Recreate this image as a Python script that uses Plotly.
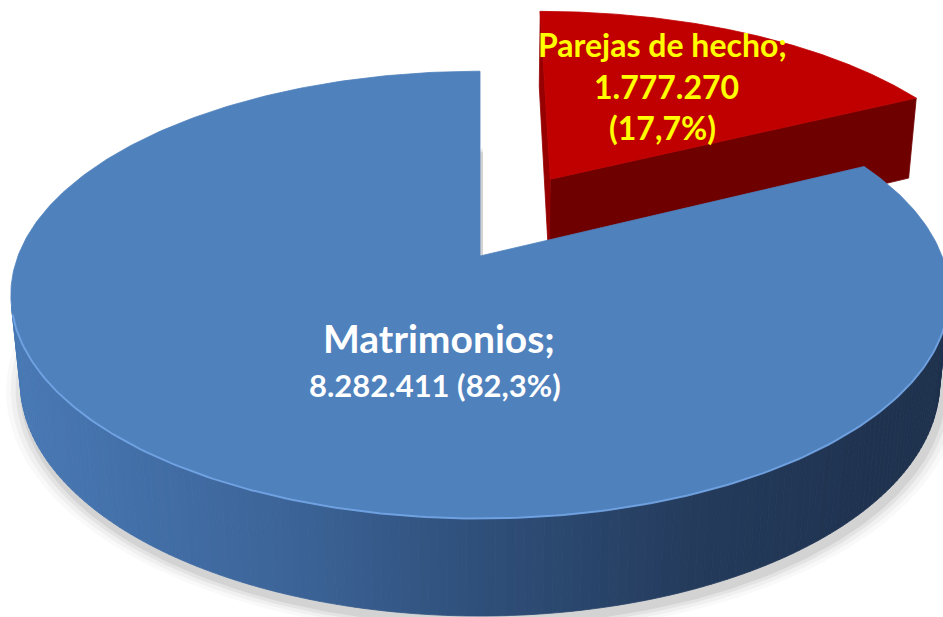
import numpy as np
import plotly.graph_objects as go

# ---------------- data ----------------
categories = ["Matrimonios", "Parejas de hecho"]
values = [8282411, 1777270]
pull = [0.0, 0.30]
top_colors = [(79, 129, 189), (192, 0, 0)]
label_colors = ["#FFFFFF", "#FFFF00"]

# ---------------- 3D pie geometry (style constants) ----------------
W, HGT = 943, 617
PHI = np.radians(28.0)      # elevation of the view
DIST = 5.08                 # camera distance (in radii)
THICK = 0.215               # disk thickness (in radii)
LIFT = [0.0, 0.06]          # exploded slice drawn slightly raised
SCALE = 462 * DIST
CX, CY = 480, 256
START = 90.0                # first slice starts at 12 o'clock, counter-clockwise

cphi, sphi = np.cos(PHI), np.sin(PHI)
CAM = np.array([0.0, -DIST * cphi, THICK + DIST * sphi])


def project(X, Y, Z):
    X, Y, Z = np.asarray(X, float), np.asarray(Y, float), np.asarray(Z, float)
    vx, vy, vz = X - CAM[0], Y - CAM[1], Z - CAM[2]
    xc = vx
    yc = vy * sphi + vz * cphi
    zc = vy * cphi - vz * sphi
    return CX + SCALE * xc / zc, CY - SCALE * yc / zc


def rgb(c):
    return "rgb(%d,%d,%d)" % tuple(int(round(v)) for v in c)


def side_blue(xpix):
    stops = [(0.0, (72, 120, 180)), (0.3, (60, 100, 152)), (0.5, (47, 80, 123)),
             (0.75, (36, 59, 92)), (1.0, (30, 49, 77))]
    t = np.clip((xpix - 20) / 900.0, 0, 1)
    for (a, ca), (b, cb) in zip(stops[:-1], stops[1:]):
        if t <= b:
            f = (t - a) / (b - a)
            return tuple(ca[i] + (cb[i] - ca[i]) * f for i in range(3))
    return stops[-1][1]


def side_red(xpix):
    t = np.clip((xpix - 540) / 380.0, 0, 1)
    a, b = (125, 0, 0), (98, 0, 0)
    return tuple(a[i] + (b[i] - a[i]) * t for i in range(3))


fig = go.Figure()


def poly(xs, ys, color, width=0.8, line=None):
    fig.add_trace(go.Scatter(x=list(xs) + [xs[0]], y=list(ys) + [ys[0]], mode="lines",
                             fill="toself", fillcolor=color,
                             line=dict(color=line or color, width=width),
                             hoverinfo="skip", showlegend=False))


total = float(sum(values))
fracs = [v / total for v in values]
slices = []
cum = 0.0
for i, f in enumerate(fracs):
    t0 = START + cum * 360.0
    t1 = t0 + f * 360.0
    cum += f
    mid = np.radians((t0 + t1) / 2)
    ox, oy = pull[i] * np.cos(mid), pull[i] * np.sin(mid)
    slices.append(dict(i=i, t0=t0, t1=t1, ox=ox, oy=oy, mid=mid, lz=LIFT[i]))

# soft shadow below the main disk
for k, (grow, alpha) in enumerate([(1.035, 0.025), (1.025, 0.035), (1.015, 0.05), (1.006, 0.07)]):
    s0 = [s for s in slices if s["i"] == 0][0]
    tt = np.radians(np.linspace(s0["t0"], s0["t1"], 300))
    X = np.concatenate([[0], grow * np.cos(tt)])
    Y = np.concatenate([[0], grow * np.sin(tt) - 0.01])
    px, py = project(X, Y, np.full(len(X), -0.005))
    px = px + 3
    py = py + 2
    poly(list(px), list(py), "rgba(0,0,0,%.3f)" % alpha, width=0)

# far slices first
slices.sort(key=lambda s: -np.sin(s["mid"]))

for s in slices:
    i, t0, t1, ox, oy, lz = s["i"], s["t0"], s["t1"], s["ox"], s["oy"], s["lz"]
    shade = side_blue if i == 0 else side_red
    # radial cut faces
    for ang, sgn in ((t0, 1), (t1, -1)):
        a = np.radians(ang)
        n = np.array([sgn * np.sin(a), -sgn * np.cos(a), 0.0])
        P = np.array([ox + 0.5 * np.cos(a), oy + 0.5 * np.sin(a), THICK / 2 + lz])
        if np.dot(CAM - P, n) > 1e-6:
            X = [ox, ox + np.cos(a), ox + np.cos(a), ox]
            Y = [oy, oy + np.sin(a), oy + np.sin(a), oy]
            Z = [THICK + lz, THICK + lz, lz, lz]
            px, py = project(X, Y, Z)
            col = (150, 0, 0) if (i == 1 and sgn == -1) else shade(np.mean(px))
            poly(px, py, rgb(col))
    # outer curved side
    angs = np.linspace(t0, t1, int(abs(t1 - t0)) + 2)
    for a0, a1 in zip(angs[:-1], angs[1:]):
        am = np.radians((a0 + a1) / 2)
        n = np.array([np.cos(am), np.sin(am), 0.0])
        P = np.array([ox + np.cos(am), oy + np.sin(am), THICK / 2 + lz])
        if np.dot(CAM - P, n) <= 0:
            continue
        r0, r1 = np.radians(a0), np.radians(a1)
        X = [ox + np.cos(r0), ox + np.cos(r1), ox + np.cos(r1), ox + np.cos(r0)]
        Y = [oy + np.sin(r0), oy + np.sin(r1), oy + np.sin(r1), oy + np.sin(r0)]
        Z = [THICK + lz, THICK + lz, lz, lz]
        px, py = project(X, Y, Z)
        poly(px, py, rgb(shade(np.mean(px))))
    # top face
    tt = np.radians(np.linspace(t0, t1, 400))
    X = np.concatenate([[ox], ox + np.cos(tt)])
    Y = np.concatenate([[oy], oy + np.sin(tt)])
    Z = np.full(len(X), THICK + lz)
    px, py = project(X, Y, Z)
    poly(list(px), list(py), rgb(top_colors[i]))
    # rim highlight on the front edge
    if i == 0:
        tr = np.radians(np.linspace(max(t0, 195), min(t1, 352), 200))
        px, py = project(np.cos(tr) + ox, np.sin(tr) + oy, np.full(len(tr), THICK))
        fig.add_trace(go.Scatter(x=px, y=py, mode="lines",
                                 line=dict(color="rgba(120,170,235,0.8)", width=2),
                                 hoverinfo="skip", showlegend=False))


def fmt_int(v):
    return "{:,}".format(v).replace(",", ".")


def fmt_pct(f):
    return ("%.1f" % (f * 100)).replace(".", ",") + "%"


FONT = "Lato, Open Sans, sans-serif"
# Matrimonios label
fig.add_annotation(x=439, y=338, xref="x", yref="y", showarrow=False,
                   text="<b>%s;</b>" % categories[0],
                   font=dict(family=FONT, size=39, color=label_colors[0]))
fig.add_annotation(x=435, y=385, xref="x", yref="y", showarrow=False,
                   text="<b>%s (%s)</b>" % (fmt_int(values[0]), fmt_pct(fracs[0])),
                   font=dict(family=FONT, size=31, color=label_colors[0]))
# Parejas de hecho label
fig.add_annotation(x=662, y=44, xref="x", yref="y", showarrow=False,
                   text="<b>%s;</b>" % categories[1],
                   font=dict(family=FONT, size=32, color=label_colors[1]))
fig.add_annotation(x=666, y=86, xref="x", yref="y", showarrow=False,
                   text="<b>%s</b>" % fmt_int(values[1]),
                   font=dict(family=FONT, size=32, color=label_colors[1]))
fig.add_annotation(x=662, y=127, xref="x", yref="y", showarrow=False,
                   text="<b>(%s)</b>" % fmt_pct(fracs[1]),
                   font=dict(family=FONT, size=32, color=label_colors[1]))

fig.update_layout(width=W, height=HGT, margin=dict(l=0, r=0, t=0, b=0),
                  paper_bgcolor="white", plot_bgcolor="white", showlegend=False,
                  xaxis=dict(range=[0, W], visible=False, fixedrange=True),
                  yaxis=dict(range=[HGT, 0], visible=False, fixedrange=True))

fig.write_html("out.html", config={"displayModeBar": False},
               post_script="document.body.style.margin='0';")
